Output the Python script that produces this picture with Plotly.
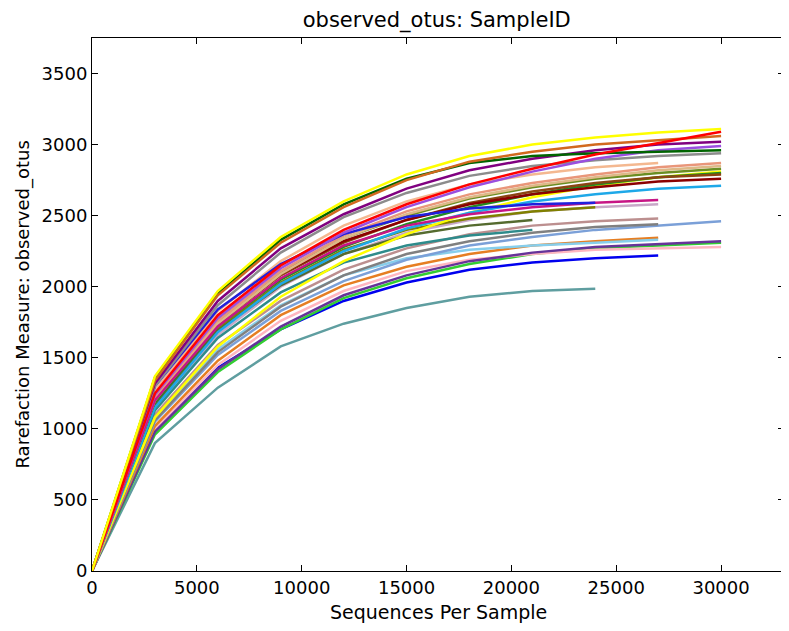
import plotly.graph_objects as go

depths = [0, 3000, 6000, 9000, 12000, 15000, 18000, 21000, 24000, 27000, 30000]
x_tickvals = [0, 5000, 10000, 15000, 20000, 25000, 30000]
x_ticktext = ["0", "5000", "10000", "15000", "20000", "25000", "30000"]
y_tickvals = [0, 500, 1000, 1500, 2000, 2500, 3000, 3500]

s_cadet      = [0, 900, 1290, 1580, 1740, 1850, 1930, 1970, 1985]
s_blue2      = [0, 990, 1430, 1700, 1900, 2030, 2120, 2170, 2200, 2220]
s_lime       = [0, 960, 1400, 1700, 1920, 2060, 2160, 2230, 2270, 2290, 2310]
s_pink       = [0, 1000, 1450, 1760, 1970, 2110, 2190, 2230, 2260, 2270, 2280]
s_indigo     = [0, 980, 1420, 1720, 1940, 2080, 2180, 2240, 2280, 2300, 2320]
s_orange     = [0, 1020, 1480, 1800, 2010, 2140, 2230, 2290, 2320, 2345]
s_skyblue    = [0, 1080, 1560, 1870, 2080, 2200, 2260, 2290, 2310, 2330]
s_steel      = [0, 1050, 1520, 1830, 2040, 2190, 2290, 2350, 2400, 2430, 2460]
s_dimgray    = [0, 1060, 1540, 1860, 2080, 2230, 2320, 2380, 2420, 2440]
s_rosy       = [0, 1100, 1590, 1900, 2120, 2270, 2370, 2430, 2460, 2480]
s_thistle    = [0, 1150, 1660, 2000, 2230, 2380, 2470, 2530, 2560, 2580]
s_olive      = [0, 1180, 1700, 2030, 2260, 2400, 2480, 2530, 2560]
s_teal       = [0, 1130, 1640, 1960, 2170, 2290, 2360, 2400]
s_dkolive    = [0, 1170, 1690, 2010, 2230, 2360, 2430, 2470]
s_gold       = [0, 1080, 1580, 1930, 2180, 2370, 2520, 2630, 2710, 2770, 2810]
s_skyblue2   = [0, 1150, 1680, 2020, 2250, 2410, 2520, 2600, 2650, 2690, 2710]
s_green2     = [0, 1190, 1720, 2050, 2280, 2440, 2560, 2650, 2720, 2770, 2800]
s_brown      = [0, 1230, 1740, 2080, 2310, 2470, 2590, 2670, 2730, 2770, 2790]
s_darkred    = [0, 1220, 1760, 2090, 2320, 2470, 2580, 2650, 2700, 2740, 2760]
s_olivedrab  = [0, 1230, 1760, 2100, 2340, 2500, 2620, 2700, 2760, 2800, 2830]
s_salmon     = [0, 1220, 1760, 2110, 2360, 2530, 2650, 2730, 2790, 2840, 2870]
s_burly      = [0, 1200, 1740, 2090, 2340, 2510, 2630, 2710, 2770, 2820, 2850]
s_tan        = [0, 1270, 1830, 2180, 2430, 2600, 2720, 2790, 2840, 2870]
s_magenta    = [0, 1200, 1720, 2060, 2290, 2430, 2510, 2560, 2590, 2610]
s_blue       = [0, 1300, 1840, 2160, 2370, 2490, 2550, 2580, 2590]
s_gray       = [0, 1300, 1870, 2240, 2490, 2660, 2780, 2850, 2890, 2920, 2940]
s_violet     = [0, 1240, 1780, 2130, 2380, 2560, 2700, 2810, 2900, 2960, 2990]
s_purple     = [0, 1320, 1900, 2270, 2510, 2690, 2820, 2900, 2960, 3000, 3020]
s_dkgreen    = [0, 1360, 1950, 2330, 2580, 2760, 2870, 2920, 2940, 2950, 2960]
s_chocolate  = [0, 1340, 1940, 2310, 2560, 2750, 2880, 2950, 3000, 3030, 3060]
s_red        = [0, 1250, 1800, 2150, 2400, 2580, 2720, 2830, 2930, 3010, 3090]
s_yellow     = [0, 1370, 1970, 2350, 2600, 2790, 2920, 3000, 3050, 3085, 3110]

series = [
    s_cadet, s_blue2, s_lime, s_pink, s_indigo, s_orange, s_skyblue, s_steel,
    s_dimgray, s_rosy, s_thistle, s_olive, s_teal, s_dkolive, s_gold, s_skyblue2,
    s_green2, s_brown, s_darkred, s_olivedrab, s_salmon, s_burly, s_tan,
    s_magenta, s_blue, s_gray, s_violet, s_purple, s_dkgreen, s_chocolate,
    s_red, s_yellow,
]
colors = [
    "#5F9EA0", "#0000EE", "#32CD32", "#FFB6C1", "#663399", "#E67E22", "#87CEEB", "#7BA0D8",
    "#808080", "#BC8F8F", "#C8A8C8", "#808000", "#2E8B8B", "#556B2F", "#FFFF00", "#1EA8E8",
    "#228B22", "#8B4513", "#8B0000", "#6B8E23", "#E9967A", "#DEB887", "#F4B890",
    "#C71585", "#2020DD", "#8C8C8C", "#9A4FE0", "#800080", "#006400", "#D2691E",
    "#FF0000", "#FFFF00",
]

fig = go.Figure()
for vals, col in zip(series, colors):
    fig.add_trace(go.Scatter(
        x=depths[:len(vals)], y=vals, mode="lines",
        line=dict(color=col, width=2.5), showlegend=False, hoverinfo="skip",
    ))

FONT = "DejaVu Sans"
axis_common = dict(
    showline=True, linecolor="black", linewidth=1, mirror="ticks",
    ticks="inside", ticklen=6, tickcolor="black", tickwidth=1,
    showgrid=False, zeroline=False, automargin=False,
    tickfont=dict(family=FONT, size=18, color="black"),
)

fig.update_layout(
    width=781, height=623,
    margin=dict(l=84, r=5, t=30, b=60),
    paper_bgcolor="white", plot_bgcolor="white",
    title=dict(text="observed_otus: SampleID", xref="container", x=0.549, xanchor="center",
               yref="container", y=0.993, yanchor="top", pad=dict(t=0, b=0),
               font=dict(family=FONT, size=21, color="black")),
    xaxis=dict(range=[0, 33000], tickvals=x_tickvals, ticktext=x_ticktext, **axis_common),
    yaxis=dict(range=[0, 3750], tickvals=y_tickvals, **axis_common),
    annotations=[
        dict(text="Sequences Per Sample", xref="paper", yref="paper", x=0.5, y=0,
             xanchor="center", yanchor="middle", yshift=-41, showarrow=False,
             font=dict(family=FONT, size=19, color="black")),
        dict(text="Rarefaction Measure: observed_otus", xref="paper", yref="paper", x=0, y=0.5,
             xanchor="center", yanchor="middle", xshift=-70, textangle=-90, showarrow=False,
             font=dict(family=FONT, size=18, color="black")),
    ],
)

fig.write_html("out.html")
